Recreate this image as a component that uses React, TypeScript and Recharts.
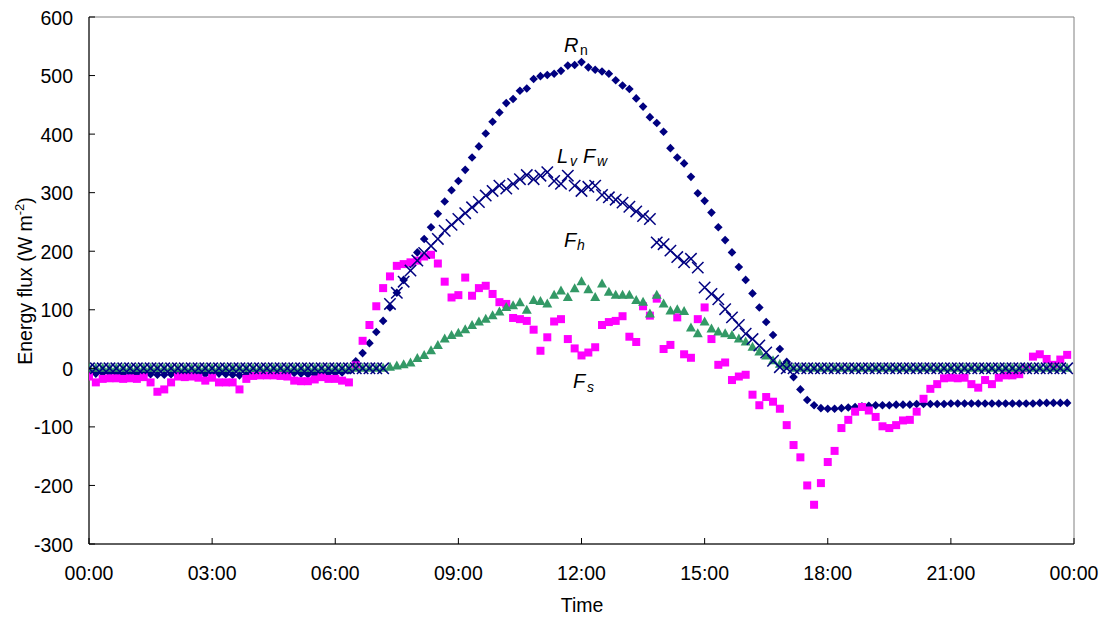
import React from 'react';
import { ComposedChart, Scatter, XAxis, YAxis, ReferenceArea } from 'recharts';

const FONT = '"Liberation Sans", Arial, sans-serif';

// one record every 10 minutes, 00:00 .. 23:50
const minutes = Array.from({ length: 144 }, (_, i) => i * 10);

const xTicks = [0, 180, 360, 540, 720, 900, 1080, 1260, 1440];
const xTickLabels = ['00:00', '03:00', '06:00', '09:00', '12:00', '15:00', '18:00', '21:00', '00:00'];
const yTicks = [-300, -200, -100, 0, 100, 200, 300, 400, 500, 600];

// net radiation R_n
const rn = [
  -8, -9, -8, -8, -9, -10, -10, -9, -8, -10,
  -11, -11, -10, -9, -8, -8, -9, -10, -10, -9,
  -10, -11, -12, -11, -10, -9, -8, -7, -7, -8,
  -8, -9, -10, -10, -9, -8, -8, -7, -3,
  12, 26, 43, 62, 81, 104, 129, 151, 178, 198, 221, 241, 264, 285, 304, 320, 339, 360,
  379, 401, 421, 437, 453, 460, 474, 478, 494, 499, 501, 503, 508, 517, 518, 523,
  514, 510, 507, 503, 492, 483, 477, 461, 447, 429, 419, 404, 376, 360, 350,
  327, 299, 286, 266, 241, 219, 198, 173, 151, 128, 104, 79, 57, 33, 11, -15, -36, -54,
  -63, -68, -69, -69, -68, -67, -66, -65, -64, -63, -63, -63,
  -62, -62, -62, -61, -61, -61, -61, -61, -60, -60, -60, -60, -60,
  -60, -60, -60, -60, -60, -60, -60, -60, -59, -59, -59, -59, -59,
];

// latent heat flux L_v F_w
const lvfw = [
  0, 0, 0, 0, 0, 0, 0, 0, 0, 0,
  0, 0, 0, 0, 0, 0, 0, 0, 0, 0,
  0, 0, 0, 0, 0, 0, 0, 0, 0, 0,
  0, 0, 0, 0, 0, 0, 0, 0, 0, 0,
  0, 0, 0, 0,
  110, 129, 148, 167, 184, 197, 209, 221, 235, 245, 255, 265, 275, 284, 295, 303, 312,
  307, 315, 323, 330, 323, 329, 335, 320, 315, 329, 312, 303,
  310, 312, 296, 292, 288, 283, 276, 268, 260, 255,
  215, 212, 201, 190, 181, 187, 172,
  138, 127, 118, 101, 87, 74, 59, 50, 39, 27, 13, 2,
  0, 0, 0, 0, 0, 0, 0, 0, 0, 0,
  0, 0, 0, 0, 0, 0, 0, 0, 0, 0,
  0, 0, 0, 0, 0, 0, 0, 0, 0, 0,
  0, 0, 0, 0, 0, 0, 0, 0, 0, 0,
  0, 0,
];

// sensible heat flux F_h
const fh = [
  0, 0, 0, 0, 0, 0, 0, 0, 0, 0,
  0, 0, 0, 0, 0, 0, 0, 0, 0, 0,
  0, 0, 0, 0, 0, 0, 0, 0, 0, 0,
  0, 0, 0, 0, 0, 0, 0, 0, 0, 0,
  0, 0, 0, 0,
  2, 4, 6, 9, 17, 22, 30, 39, 50, 56, 60, 66, 73, 79, 84, 90, 96, 104, 107, 112, 99, 116, 114,
  110, 125, 132, 121, 136, 148, 134, 121, 144, 130, 125, 125, 125, 116, 113, 93, 125, 110, 98, 100, 97, 69, 59,
  79, 67, 62, 59, 56, 50, 45, 36, 28, 21, 13, 7, 4,
  0, 0, 0, 0, 0, 0, 0, 0, 0, 0,
  0, 0, 0, 0, 0, 0, 0, 0, 0, 0,
  0, 0, 0, 0, 0, 0, 0, 0, 0, 0,
  0, 0, 0, 0, 0, 0, 0, 0, 0, 0,
  0,
];

// soil heat flux F_s
const fs = [
  -14, -24, -18, -17, -17, -18, -17, -18, -15, -24,
  -40, -36, -24, -14, -15, -14, -16, -21, -16, -24,
  -24, -24, -36, -18, -13, -12, -12, -12, -13, -14,
  -21, -22, -22, -19, -15, -18, -18, -21, -24,
  5, 47, 74, 106, 137, 157, 175, 178, 181, 184,
  191, 194, 179, 148, 121, 125, 155, 124, 137, 141,
  127, 113, 110, 86, 84, 81, 66, 30, 53, 80,
  84, 50, 34, 22, 27, 36, 74, 79, 81, 89,
  54, 45, 106, 90, 119, 33, 40, 87, 24, 18,
  84, 104, 50, 6, 10, -20, -14, -11, -45, -63,
  -49, -57, -69, -97, -131, -152, -200, -233, -196, -160,
  -141, -102, -88, -74, -66, -72, -83, -99, -102, -97,
  -89, -88, -74, -52, -35, -27, -17, -16, -17, -16,
  -27, -33, -20, -27, -16, -12, -12, -10, 0, 20,
  24, 16, 6, 15, 23,
];

const toPoints = (vals: number[]) => vals.map((v, i) => ({ t: minutes[i], v }));

const NAVY = '#000080';
const GREEN = '#339966';
const MAGENTA = '#FF00FF';

const Diamond = (p: any) => {
  const { cx, cy } = p;
  const r = 4.3;
  return <polygon points={`${cx},${cy - r} ${cx + r},${cy} ${cx},${cy + r} ${cx - r},${cy}`} fill={NAVY} />;
};

const Square = (p: any) => {
  const { cx, cy } = p;
  return <rect x={cx - 4} y={cy - 4} width={8} height={8} fill={MAGENTA} />;
};

const Triangle = (p: any) => {
  const { cx, cy } = p;
  return <polygon points={`${cx},${cy - 5.5} ${cx + 5},${cy + 3.5} ${cx - 5},${cy + 3.5}`} fill={GREEN} />;
};

const Cross = (p: any) => {
  const { cx, cy } = p;
  const r = 5.7;
  return (
    <g stroke={NAVY} strokeWidth={1.5}>
      <line x1={cx - r} y1={cy - r} x2={cx + r} y2={cy + r} />
      <line x1={cx - r} y1={cy + r} x2={cx + r} y2={cy - r} />
    </g>
  );
};

const XTick = (p: any) => {
  const { x, y, payload } = p;
  const label = xTickLabels[xTicks.indexOf(payload.value)];
  return (
    <g>
      <line x1={x} x2={x} y1={y} y2={y - 6} stroke="#000" />
      <text x={x} y={y + 36} textAnchor="middle" fontSize={19.5} fontFamily={FONT} fill="#000">
        {label}
      </text>
    </g>
  );
};

const YTick = (p: any) => {
  const { x, y, payload } = p;
  return (
    <g>
      <line x1={x} x2={x + 6} y1={y} y2={y} stroke="#000" />
      <text x={x - 16} y={y + 7.5} textAnchor="end" fontSize={19.5} fontFamily={FONT} fill="#000">
        {payload.value}
      </text>
    </g>
  );
};

export default function App() {
  return (
    <div style={{ position: 'absolute', left: 0, top: 0, width: 1106, height: 623, background: '#fff' }}>
      <ComposedChart width={1106} height={623} margin={{ top: 17, right: 32, bottom: 19, left: 0 }}>
        <ReferenceArea
          x1={0}
          x2={1440}
          y1={-300}
          y2={600}
          fill="none"
          stroke="#808080"
          strokeWidth={1}
          ifOverflow="visible"
        />
        <XAxis
          dataKey="t"
          type="number"
          domain={[0, 1440]}
          ticks={xTicks}
          interval={0}
          tick={<XTick />}
          tickLine={false}
          tickSize={0}
          tickMargin={0}
          axisLine={{ stroke: '#000' }}
          height={60}
          allowDataOverflow
        />
        <YAxis
          type="number"
          domain={[-300, 600]}
          ticks={yTicks}
          interval={0}
          tick={<YTick />}
          tickLine={false}
          tickSize={0}
          tickMargin={0}
          axisLine={{ stroke: '#000' }}
          width={89}
          allowDataOverflow
        />
        <Scatter name="Rn" data={toPoints(rn)} dataKey="v" shape={Diamond} isAnimationActive={false} />
        <Scatter name="Fs" data={toPoints(fs)} dataKey="v" shape={Square} isAnimationActive={false} />
        <Scatter name="Fh" data={toPoints(fh)} dataKey="v" shape={Triangle} isAnimationActive={false} />
        <Scatter name="LvFw" data={toPoints(lvfw)} dataKey="v" shape={Cross} isAnimationActive={false} />
      </ComposedChart>

      <svg
        width={1106}
        height={623}
        style={{ position: 'absolute', left: 0, top: 0, pointerEvents: 'none' }}
        fontFamily={FONT}
        fill="#000"
      >
        <text x={31.5} y={281} transform="rotate(-90 31.5 281)" textAnchor="middle" fontSize={19.5}>
          Energy flux (W m<tspan fontSize={13} dy={-8}>-2</tspan>
          <tspan dy={8}>)</tspan>
        </text>
        <text x={582} y={612} textAnchor="middle" fontSize={19.5}>Time</text>

        <text y={52} fontSize={20}>
          <tspan x={564} fontStyle="italic">R</tspan>
          <tspan x={580} dy={3} fontSize={14}>n</tspan>
        </text>
        <text y={163} fontSize={20} fontStyle="italic">
          <tspan x={557}>L</tspan>
          <tspan x={570} dy={3} fontSize={14}>v</tspan>
          <tspan x={583} dy={-3}>F</tspan>
          <tspan x={597} dy={3} fontSize={14}>w</tspan>
        </text>
        <text y={247} fontSize={20} fontStyle="italic">
          <tspan x={564}>F</tspan>
          <tspan x={577} dy={3} fontSize={14}>h</tspan>
        </text>
        <text y={388} fontSize={20} fontStyle="italic">
          <tspan x={573}>F</tspan>
          <tspan x={587} dy={4} fontSize={14}>s</tspan>
        </text>
      </svg>
    </div>
  );
}
